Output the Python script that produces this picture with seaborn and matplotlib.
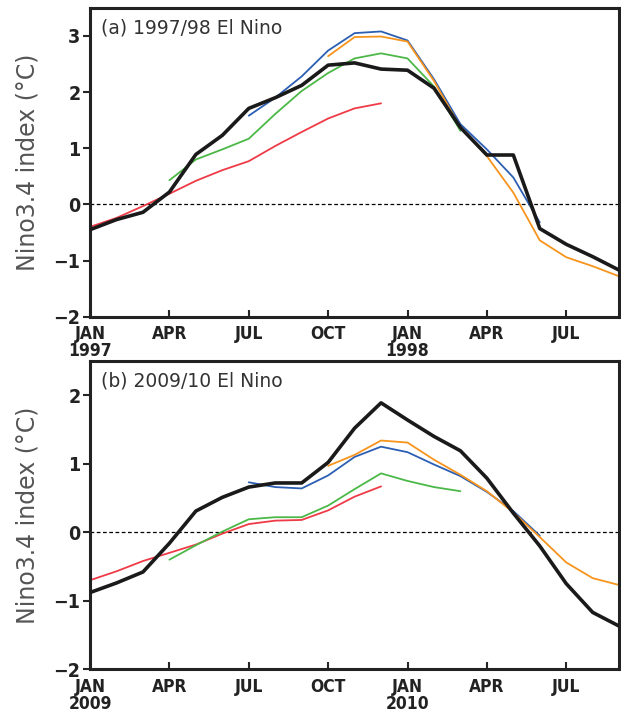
import numpy as np
import pandas as pd
import seaborn as sns
import matplotlib.pyplot as plt

# month index 0 = JAN of first year, 20 = SEP of second year
months = list(range(21))

# (a) 1997/98
obs_a = [-0.45, -0.27, -0.14, 0.22, 0.89, 1.23, 1.71, 1.90, 2.12, 2.48, 2.52,
         2.41, 2.39, 2.07, 1.37, 0.88, 0.88, -0.43, -0.71, -0.93, -1.17]
red_a = [-0.40, -0.24, -0.03, 0.19, 0.42, 0.61, 0.77, 1.04, 1.29, 1.53, 1.71, 1.80]
green_a = [0.43, 0.80, 0.98, 1.17, 1.61, 2.02, 2.34, 2.60, 2.69, 2.60, 2.10, 1.31]
blue_a = [1.58, 1.90, 2.28, 2.74, 3.05, 3.08, 2.92, 2.23, 1.43, 0.98, 0.48, -0.32]
orange_a = [2.64, 2.98, 2.99, 2.90, 2.20, 1.37, 0.86, 0.21, -0.64, -0.94, -1.10, -1.28]

# (b) 2009/10
obs_b = [-0.88, -0.74, -0.58, -0.16, 0.31, 0.51, 0.66, 0.72, 0.72, 1.02, 1.52,
         1.89, 1.64, 1.40, 1.19, 0.79, 0.28, -0.20, -0.75, -1.17, -1.37]
red_b = [-0.70, -0.57, -0.42, -0.30, -0.18, -0.02, 0.12, 0.17, 0.18, 0.32, 0.52, 0.67]
green_b = [-0.40, -0.19, 0.01, 0.19, 0.22, 0.22, 0.39, 0.63, 0.86, 0.75, 0.66, 0.60]
blue_b = [0.73, 0.66, 0.64, 0.83, 1.10, 1.25, 1.17, 0.99, 0.82, 0.59, 0.31, -0.05]
orange_b = [0.97, 1.13, 1.34, 1.31, 1.06, 0.84, 0.60, 0.29, -0.07, -0.44, -0.67, -0.77]

# first month of each forecast run
start_red, start_green, start_blue, start_orange = 0, 3, 6, 9

tick_pos = [0, 3, 6, 9, 12, 15, 18]
tick_a = ["JAN\n1997", "APR", "JUL", "OCT", "JAN\n1998", "APR", "JUL"]
tick_b = ["JAN\n2009", "APR", "JUL", "OCT", "JAN\n2010", "APR", "JUL"]

colors = {"obs": "#1a1a1a", "red": "#ee3b47", "green": "#4cb848",
          "blue": "#2c5fb3", "orange": "#f7941d"}

sns.set_style("ticks")
plt.rcParams['font.family'] = ['DejaVu Sans']


def make_df(obs, red, green, blue, orange):
    rows = []
    for i, v in enumerate(obs):
        rows.append(("obs", months[i], v))
    for name, vals, st in [("red", red, start_red), ("green", green, start_green),
                           ("blue", blue, start_blue), ("orange", orange, start_orange)]:
        for i, v in enumerate(vals):
            rows.append((name, months[st + i], v))
    return pd.DataFrame(rows, columns=["run", "month", "nino"])


fig = plt.figure(figsize=(6.21, 7.15), dpi=100)
ax1 = fig.add_axes([0.145, 0.557, 0.852, 0.432])
ax2 = fig.add_axes([0.145, 0.064, 0.852, 0.431])

panels = [
    (ax1, make_df(obs_a, red_a, green_a, blue_a, orange_a), tick_a, (-2, 3.5), [-2, -1, 0, 1, 2, 3], "(a) 1997/98 El Nino"),
    (ax2, make_df(obs_b, red_b, green_b, blue_b, orange_b), tick_b, (-2, 2.5), [-2, -1, 0, 1, 2], "(b) 2009/10 El Nino"),
]

for ax, df, labels, ylim, yt, title in panels:
    ax.axhline(0, color="black", lw=0.9, ls=(0, (3, 2)), zorder=1)
    for run in ["red", "green", "blue", "orange"]:
        sns.lineplot(data=df[df.run == run], x="month", y="nino", color=colors[run],
                     lw=1.3, ax=ax, zorder=2)
    sns.lineplot(data=df[df.run == "obs"], x="month", y="nino", color=colors["obs"],
                 lw=2.6, ax=ax, zorder=3)
    ax.set_xlim(0, 20)
    ax.set_ylim(*ylim)
    ax.set_xticks(tick_pos)
    ax.set_xticklabels(labels, fontsize=12.5, linespacing=0.95,
                       fontstretch="condensed", fontweight="bold", color="#222222")
    ax.set_yticks(yt)
    ax.set_yticklabels([f"{v}".replace("-", "\u2212") for v in yt], fontsize=14,
                       fontstretch="condensed", fontweight="bold", color="#222222")
    ax.tick_params(axis="x", direction="in", length=5, width=1.5, pad=6)
    ax.tick_params(axis="y", direction="out", length=5, width=1.5, pad=2)
    for sp in ax.spines.values():
        sp.set_linewidth(2.2)
        sp.set_color("#222222")
    ax.set_xlabel("")
    ax.set_ylabel("Nino3.4 index (\u00b0C)", fontsize=17, color="#555555",
                  labelpad=10)
    ax.text(0.02, 0.965, title, transform=ax.transAxes, ha="left", va="top",
            fontsize=13.5, color="#333333")
    if ax.get_legend():
        ax.get_legend().remove()

fig.savefig("out.png", dpi=100)
